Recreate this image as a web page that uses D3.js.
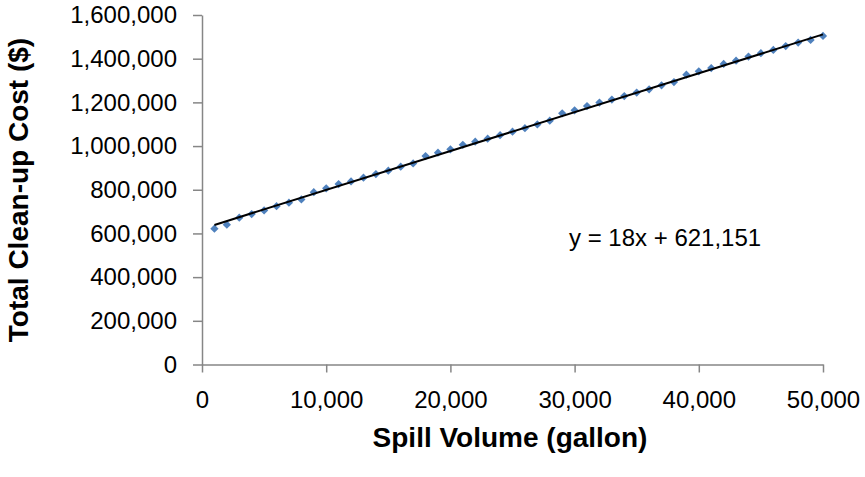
<!DOCTYPE html>
<html>
<head>
<meta charset="utf-8">
<script src="https://cdn.jsdelivr.net/npm/d3@7"></script>
<style>
  html, body { margin: 0; padding: 0; background: #fff; }
  svg { display: block; font-family: Arial, "Liberation Sans", sans-serif; }
</style>
</head>
<body>
<svg id="chart" width="865" height="477"></svg>
<script>
// Spill volume (gallons) for each observation
const spillVolume = [
  1000, 2000, 3000, 4000, 5000, 6000, 7000, 8000, 9000, 10000,
  11000, 12000, 13000, 14000, 15000, 16000, 17000, 18000, 19000, 20000,
  21000, 22000, 23000, 24000, 25000, 26000, 27000, 28000, 29000, 30000,
  31000, 32000, 33000, 34000, 35000, 36000, 37000, 38000, 39000, 40000,
  41000, 42000, 43000, 44000, 45000, 46000, 47000, 48000, 49000, 50000
];

// Total clean-up cost ($) for each observation
const cleanupCost = [
  621600, 640000, 672000, 688500, 705400, 725000, 740700, 755800, 789000, 806500,
  826000, 838000, 855000, 872000, 887000, 905600, 920700, 954000, 969800, 984900,
  1006000, 1020000, 1034000, 1050000, 1066000, 1082000, 1099000, 1116000, 1150000, 1163500,
  1183000, 1199000, 1213000, 1229000, 1245000, 1260000, 1278000, 1293000, 1327000, 1342000,
  1357000, 1376000, 1391000, 1410000, 1425000, 1440000, 1458000, 1474000, 1486000, 1504000
];

// Linear trendline
const trendSlope = 17.8;
const trendIntercept = 621151;

// Axis ticks
const xTicks = [0, 10000, 20000, 30000, 40000, 50000];
const yTicks = [0, 200000, 400000, 600000, 800000, 1000000, 1200000, 1400000, 1600000];

const xTitle = "Spill Volume (gallon)";
const yTitle = "Total Clean-up Cost ($)";

const svg = d3.select("#chart");
const fmt = d3.format(",");
const fontFamily = "Arial, 'Liberation Sans', sans-serif";

const x = d3.scaleLinear().domain([0, 50000]).range([202, 823]);
const y = d3.scaleLinear().domain([0, 1600000]).range([364.5, 15]);

const axisColor = "#868686";

// X axis
const gx = svg.append("g")
  .attr("transform", `translate(0,${y(0)})`)
  .call(d3.axisBottom(x).tickValues(xTicks).tickFormat(fmt).tickSize(8).tickSizeOuter(0).tickPadding(18));
gx.select(".domain").attr("stroke", axisColor).attr("stroke-width", 1.5);
gx.selectAll(".tick line").attr("stroke", axisColor).attr("stroke-width", 1.5);
gx.selectAll(".tick text").attr("fill", "#000").attr("font-size", 24).attr("font-family", fontFamily);

// Y axis
const gy = svg.append("g")
  .attr("transform", `translate(${x(0)},0)`)
  .call(d3.axisLeft(y).tickValues(yTicks).tickFormat(fmt).tickSize(9).tickSizeOuter(0).tickPadding(16));
gy.select(".domain").attr("stroke", axisColor).attr("stroke-width", 1.5);
gy.selectAll(".tick line").attr("stroke", axisColor).attr("stroke-width", 1.5);
gy.selectAll(".tick text").attr("fill", "#000").attr("font-size", 24).attr("font-family", fontFamily);

// Data markers (diamonds)
const diamond = d3.symbol().type(d3.symbolSquare).size(34);
svg.append("g")
  .selectAll("path")
  .data(spillVolume.map((v, i) => ({ v, c: cleanupCost[i] })))
  .join("path")
  .attr("d", diamond)
  .attr("transform", d => `translate(${x(d.v)},${y(d.c)}) rotate(45)`)
  .attr("fill", "#4F81BD");

// Trendline across the data range
const x0 = spillVolume[0], x1 = spillVolume[spillVolume.length - 1];
svg.append("line")
  .attr("x1", x(x0)).attr("y1", y(trendSlope * x0 + trendIntercept))
  .attr("x2", x(x1)).attr("y2", y(trendSlope * x1 + trendIntercept))
  .attr("stroke", "#000").attr("stroke-width", 2);

// Trendline equation
svg.append("text")
  .attr("x", 569).attr("y", 246)
  .attr("font-size", 24)
  .text(`y = ${d3.format(".0f")(trendSlope)}x + ${d3.format(",.0f")(trendIntercept)}`);

// Axis titles
svg.append("text")
  .attr("x", 510).attr("y", 447)
  .attr("text-anchor", "middle")
  .attr("font-size", 28).attr("font-weight", "bold")
  .text(xTitle);

svg.append("text")
  .attr("transform", `translate(28,190) rotate(-90)`)
  .attr("text-anchor", "middle")
  .attr("font-size", 28).attr("font-weight", "bold")
  .text(yTitle);
</script>
</body>
</html>
